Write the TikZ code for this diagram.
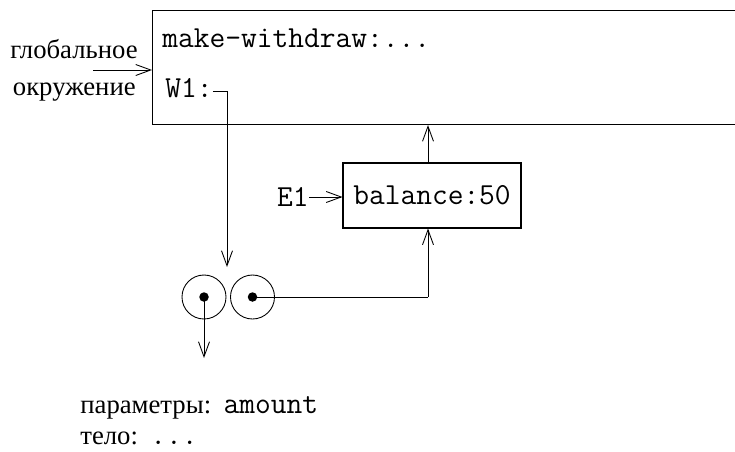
\documentclass[tikz,border=0pt]{standalone}
\usepackage{fontspec}
\setmainfont{Liberation Serif}
\usetikzlibrary{arrows.meta}
\newcommand{\cd}[1]{{\ttfamily\fontsize{17.4}{20}\selectfont #1}}
\tikzset{
  frame/.style={draw=black, line width=0.6pt, inner sep=0pt},
  ptr/.style={line width=0.5pt, draw=black, -{Straight Barb[length=3mm,width=2.2mm]}},
  wire/.style={line width=0.5pt, draw=black},
  cell/.style={circle, draw=black, line width=0.5pt, minimum size=0.88cm, inner sep=0pt},
  dotmark/.style={circle, fill=black, minimum size=0.19cm, inner sep=0pt},
  code/.style={font=\ttfamily\fontsize{17.4}{20}\selectfont, inner sep=0pt},
  ru/.style={font=\fontsize{15.2}{18}\selectfont, inner sep=0pt},
}

\begin{document}
\begin{tikzpicture}
\useasboundingbox (0,0) rectangle (14.7,9.02);
\node[frame, anchor=north west, minimum width=11.8cm, minimum height=2.28cm] (glob) at (3.04,8.82) {};
\node[code, anchor=base west] (mw) at (3.24,8.08) {make-withdraw:...};
\node[code, anchor=base west] (w1) at (3.30,7.08) {W1:};
\node[ru, anchor=base east] (gl1) at (2.76,7.86) {глобальное};
\node[ru, anchor=base east] (gl2) at (2.72,7.12) {окружение};
\coordinate (genv) at (1.86,7.62);
\draw[ptr] (genv) -- (genv -| glob.west);
\node[frame, minimum width=3.56cm, minimum height=1.3cm, inner sep=0pt] (e1box) at (8.64,5.11) {};
\node[code, anchor=center] (bal) at (e1box.center) {balance:50};
\node[code, anchor=east] (e1) at (6.18,5.08) {E1};
\draw[ptr] (e1.east) -- (e1.east -| e1box.west);
\coordinate (up) at (8.56,0 |- e1box.north);
\draw[ptr] (up) -- (up |- glob.south);
\node[cell] (lp) at (4.08,3.08) {};
\node[cell] (rp) at (5.05,3.08) {};
\node[dotmark] (lpd) at (lp.center) {};
\node[dotmark] (rpd) at (rp.center) {};
\coordinate (w1turn) at (4.54,7.20);
\draw[wire] (w1.east |- w1turn) -- (w1turn);
\draw[ptr] (w1turn) -- (4.54,3.68);
\coordinate (rpturn) at (8.56,3.08);
\draw[wire] (rpd.center) -- (rpturn);
\draw[ptr] (rpturn) -- (rpturn |- e1box.south);
\coordinate (body) at (4.08,1.86);
\draw[ptr] (lpd.center) -- (body);
\node[ru, anchor=base west] (par) at (1.60,0.76) {параметры:\hspace{0.25cm}\cd{amount}};
\node[ru, anchor=base west] (tel) at (1.60,0.14) {тело:\hspace{0.25cm}\cd{...}};
\end{tikzpicture}
\end{document}
